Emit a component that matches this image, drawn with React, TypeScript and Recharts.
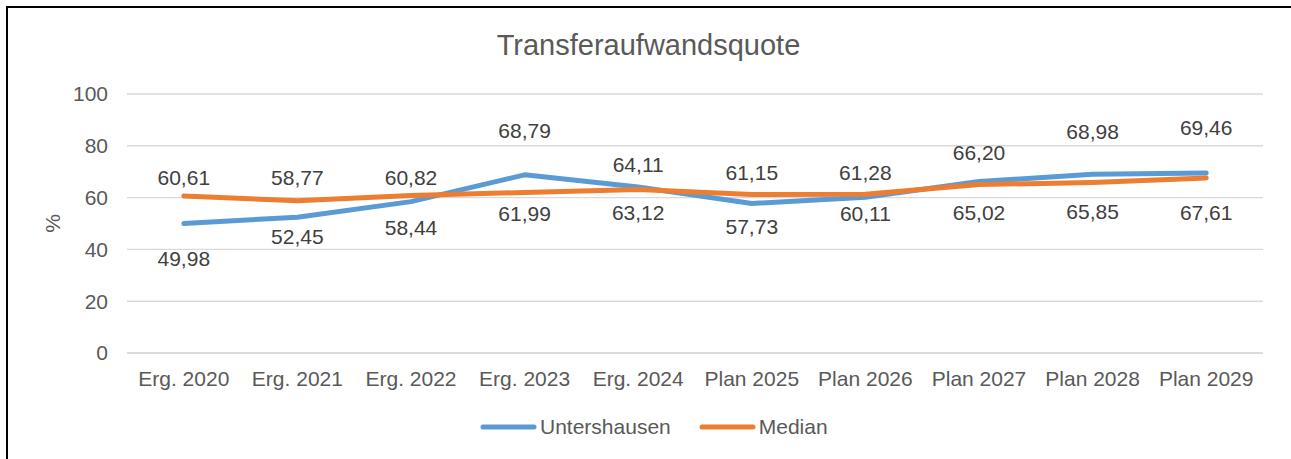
import React from 'react';
import { LineChart, Line, XAxis, YAxis, CartesianGrid, LabelList } from 'recharts';

const categories = ['Erg. 2020', 'Erg. 2021', 'Erg. 2022', 'Erg. 2023', 'Erg. 2024', 'Plan 2025', 'Plan 2026', 'Plan 2027', 'Plan 2028', 'Plan 2029'];
const untershausen = [49.98, 52.45, 58.44, 68.79, 64.11, 57.73, 60.11, 66.2, 68.98, 69.46];
const median = [60.61, 58.77, 60.82, 61.99, 63.12, 61.15, 61.28, 65.02, 65.85, 67.61];
const yTicks = [0, 20, 40, 60, 80, 100];

// label nudges (px, relative to point)
const untershausenLabelDy = [35, 19, 26, -44, -22, 23, 16, -29, -43, -46];
const medianLabelDy = [-19, -23, -18, 21, 23, -22, -22, 28, 29, 35];

const data = categories.map((c, i) => ({ name: c, u: untershausen[i], m: median[i] }));

const FONT = '"Liberation Sans", Arial, sans-serif';
const BLUE = '#5B9BD5';
const ORANGE = '#ED7D31';

const fmt = (v: number) => v.toFixed(2).replace('.', ',');

const makeLabel = (dys: number[]) => (props: any) => {
  const { x, y, value, index } = props;
  return (
    <text x={x} y={y + dys[index]} textAnchor="middle" dominantBaseline="central" fontSize={21} fill="#404040" fontFamily={FONT}>
      {fmt(value)}
    </text>
  );
};

export default function App() {
  return (
    <div style={{ position: 'fixed', left: 0, top: 0, width: 1291, height: 459, background: '#fff', fontFamily: FONT }}>
      <div style={{ position: 'absolute', left: 6, top: 6, width: 1285, height: 453, borderTop: '2px solid #000', borderLeft: '2px solid #000', boxSizing: 'border-box' }} />
      <div style={{ position: 'absolute', left: 0, top: 28, width: 1297, textAlign: 'center', fontSize: 29, lineHeight: '34px', color: '#595959' }}>
        Transferaufwandsquote
      </div>
      <div style={{ position: 'absolute', left: 0, top: 0 }}>
        <LineChart width={1291} height={459} data={data} margin={{ top: 94, right: 28, bottom: 76, left: 0 }}>
          <CartesianGrid vertical={false} stroke="#D9D9D9" strokeWidth={1.4} />
          <XAxis
            dataKey="name"
            height={30}
            padding={{ left: 56.8, right: 56.8 }}
            axisLine={{ stroke: '#D9D9D9', strokeWidth: 1.4 }}
            tickLine={false}
            tickSize={0}
            tickMargin={18}
            interval={0}
            tick={{ fontSize: 21, fill: '#595959', fontFamily: FONT }}
          />
          <YAxis
            width={127}
            domain={[0, 100]}
            ticks={yTicks}
            axisLine={false}
            tickLine={false}
            tickSize={0}
            tickMargin={19}
            tick={{ fontSize: 21, fill: '#595959', fontFamily: FONT }}
            label={{
              content: (p: any) => {
                const vb = p.viewBox || {};
                const cy = (vb.y ?? 94) + (vb.height ?? 259) / 2;
                return (
                  <text x={52} y={cy} transform={`rotate(-90, 52, ${cy})`} textAnchor="middle" dominantBaseline="central" fontSize={21} fill="#595959" fontFamily={FONT}>
                    %
                  </text>
                );
              },
            }}
          />
          <Line type="linear" dataKey="u" stroke={BLUE} strokeWidth={5} strokeLinecap="round" strokeLinejoin="round" dot={false} activeDot={false} isAnimationActive={false}>
            <LabelList dataKey="u" content={makeLabel(untershausenLabelDy)} />
          </Line>
          <Line type="linear" dataKey="m" stroke={ORANGE} strokeWidth={5} strokeLinecap="round" strokeLinejoin="round" dot={false} activeDot={false} isAnimationActive={false}>
            <LabelList dataKey="m" content={makeLabel(medianLabelDy)} />
          </Line>
        </LineChart>
      </div>
      <div style={{ position: 'absolute', left: 480, top: 414, height: 26, display: 'flex', alignItems: 'center', fontSize: 21, color: '#595959' }}>
        <svg width={57} height={8} style={{ marginRight: 3 }}>
          <line x1={3} y1={4} x2={54} y2={4} stroke={BLUE} strokeWidth={5} strokeLinecap="round" />
        </svg>
        <span>Untershausen</span>
        <svg width={57} height={8} style={{ marginLeft: 28, marginRight: 3 }}>
          <line x1={3} y1={4} x2={54} y2={4} stroke={ORANGE} strokeWidth={5} strokeLinecap="round" />
        </svg>
        <span>Median</span>
      </div>
    </div>
  );
}
